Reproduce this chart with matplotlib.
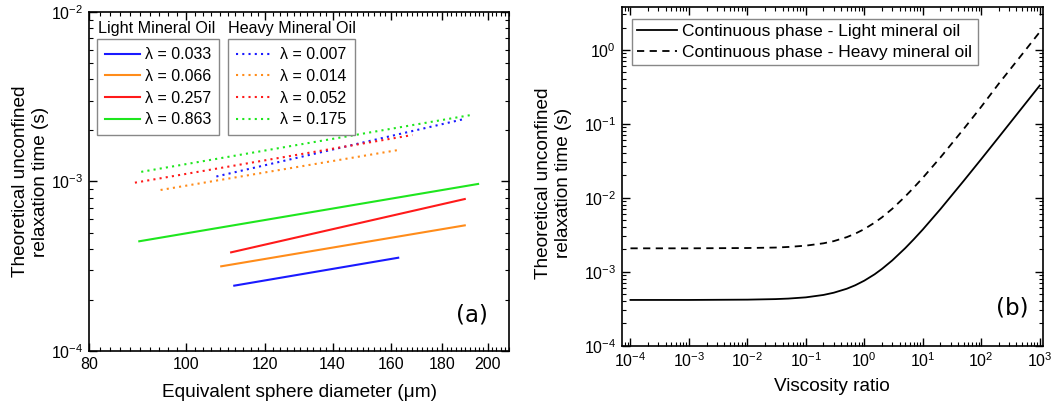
"""Relaxation time of droplets: (a) vs. diameter, (b) vs. viscosity ratio."""

import matplotlib

matplotlib.use("Agg")

import matplotlib.pyplot as plt
from matplotlib.lines import Line2D
from matplotlib.ticker import FixedLocator, FuncFormatter, LogLocator, MultipleLocator, NullFormatter

plt.rcParams["font.family"] = ["Liberation Sans", "DejaVu Sans"]
plt.rcParams["mathtext.fontset"] = "custom"
plt.rcParams["mathtext.rm"] = "Liberation Sans"

# panel (a): light mineral oil (solid) and heavy mineral oil (dotted)
light_labels = ["λ = 0.033", "λ = 0.066", "λ = 0.257", "λ = 0.863"]
light_d = [[111.7, 162.8], [108.4, 189.7], [110.9, 189.7], [89.8, 195.6]]
light_tau = [[2.43e-4, 3.55e-4], [3.16e-4, 5.51e-4], [3.82e-4, 7.88e-4], [4.44e-4, 9.67e-4]]

heavy_labels = ["λ = 0.007", "λ = 0.014", "λ = 0.052", "λ = 0.175"]
heavy_d = [[107.2, 189.7], [94.3, 163.5], [88.9, 168.2], [90.2, 192.7]]
heavy_tau = [[1.07e-3, 2.34e-3], [8.91e-4, 1.54e-3], [9.84e-4, 1.88e-3], [1.14e-3, 2.47e-3]]

series_colors = ["#1a1aff", "#ff8c1a", "#ff1a1a", "#1ee61e"]
diameter_ticks = [80, 100, 120, 140, 160, 180, 200]

# panel (b): relaxation time vs viscosity ratio
visc_ratio = [1e-4, 1e-3, 1e-2, 3e-2, 5e-2, 0.1, 0.2, 0.3, 0.5, 0.7, 1, 1.5, 2, 3, 5, 7, 10, 20, 50,
              100, 200, 500, 1000]
tau_light = [4.15e-4, 4.15e-4, 4.19e-4, 4.26e-4, 4.33e-4, 4.50e-4, 4.85e-4, 5.20e-4, 5.88e-4, 6.56e-4,
             7.57e-4, 9.23e-4, 1.09e-3, 1.42e-3, 2.08e-3, 2.74e-3, 3.72e-3, 7.01e-3, 1.69e-2,
             3.33e-2, 6.62e-2, 0.165, 0.329]
tau_heavy = [2.07e-3, 2.07e-3, 2.09e-3, 2.12e-3, 2.16e-3, 2.25e-3, 2.42e-3, 2.59e-3, 2.93e-3, 3.27e-3,
             3.77e-3, 4.61e-3, 5.43e-3, 7.08e-3, 1.04e-2, 1.37e-2, 1.86e-2, 3.50e-2, 8.5e-2,
             0.170, 0.350, 0.87, 1.74]

LABEL_SIZE = 13.7
TICK_SIZE = 11.5

fig = plt.figure(figsize=(10.62, 4.12), dpi=100)
ax_a = fig.add_axes([0.0838, 0.148, 0.3955, 0.823])
ax_b = fig.add_axes([0.5854, 0.161, 0.3964, 0.821])


def style_axis(ax):
    ax.tick_params(which="both", direction="in", top=True, right=True, labelsize=TICK_SIZE, pad=4)
    ax.tick_params(which="major", length=6, width=1)
    ax.tick_params(which="minor", length=3, width=0.8)
    for spine in ax.spines.values():
        spine.set_linewidth(1.2)


# ---- panel (a)
for xs, ys, c in zip(light_d, light_tau, series_colors):
    ax_a.plot(xs, ys, color=c, linewidth=1.5)
for xs, ys, c in zip(heavy_d, heavy_tau, series_colors):
    ax_a.plot(xs, ys, color=c, linewidth=1.5, linestyle=(0, (1, 2)))

ax_a.set_xscale("log")
ax_a.set_yscale("log")
ax_a.set_xlim(80, 210)
ax_a.set_ylim(1e-4, 1e-2)
ax_a.xaxis.set_major_locator(FixedLocator(diameter_ticks))
ax_a.xaxis.set_major_formatter(FuncFormatter(lambda v, _: f"{v:.0f}"))
ax_a.xaxis.set_minor_locator(MultipleLocator(2))
ax_a.xaxis.set_minor_formatter(NullFormatter())
ax_a.yaxis.set_minor_locator(LogLocator(base=10, subs=range(2, 10)))
ax_a.yaxis.set_minor_formatter(NullFormatter())
style_axis(ax_a)

ax_a.set_xlabel("Equivalent sphere diameter (μm)", fontsize=LABEL_SIZE, labelpad=9)
ax_a.set_ylabel("Theoretical unconfined\nrelaxation time (s)", fontsize=LABEL_SIZE)
ax_a.yaxis.set_label_coords(-0.095, 0.5)

legend_kw = dict(loc="upper left", fontsize=TICK_SIZE, fancybox=False, edgecolor="#888888",
                 framealpha=1, borderaxespad=0, labelspacing=0.42, borderpad=0.5, handlelength=2.2)
light_handles = [Line2D([], [], color=c, linewidth=1.5) for c in series_colors]
leg1 = ax_a.legend(light_handles, light_labels, bbox_to_anchor=(0.0183, 0.9195),
                   handletextpad=0.3, **legend_kw)
leg1.get_frame().set_linewidth(1.0)
ax_a.add_artist(leg1)
heavy_handles = [Line2D([], [], color=c, linewidth=1.5, linestyle=(0, (1, 2))) for c in series_colors]
leg2 = ax_a.legend(heavy_handles, heavy_labels, bbox_to_anchor=(0.3317, 0.9195),
                   handletextpad=0.55, **legend_kw)
leg2.get_frame().set_linewidth(1.0)

ax_a.text(0.0207, 0.95, "Light Mineral Oil", transform=ax_a.transAxes, fontsize=11.6, va="center")
ax_a.text(0.3317, 0.95, "Heavy Mineral Oil", transform=ax_a.transAxes, fontsize=11.6, va="center")
ax_a.text(0.912, 0.106, "(a)", transform=ax_a.transAxes, fontsize=16.5, family="DejaVu Sans",
          ha="center", va="center")

# ---- panel (b)
ax_b.plot(visc_ratio, tau_light, color="black", linewidth=1.3,
          label="Continuous phase - Light mineral oil")
ax_b.plot(visc_ratio, tau_heavy, color="black", linewidth=1.3, linestyle=(0, (4, 3)),
          label="Continuous phase - Heavy mineral oil")
ax_b.set_xscale("log")
ax_b.set_yscale("log")
ax_b.set_xlim(10 ** -4.15, 10 ** 3.05)
ax_b.set_ylim(1e-4, 3.74)
ax_b.xaxis.set_major_locator(LogLocator(base=10, numticks=12))
ax_b.xaxis.set_minor_locator(LogLocator(base=10, subs=range(2, 10), numticks=12))
ax_b.xaxis.set_minor_formatter(NullFormatter())
ax_b.yaxis.set_minor_locator(LogLocator(base=10, subs=range(2, 10), numticks=12))
ax_b.yaxis.set_minor_formatter(NullFormatter())
style_axis(ax_b)

ax_b.set_xlabel("Viscosity ratio", fontsize=LABEL_SIZE, labelpad=6)
ax_b.set_ylabel("Theoretical unconfined\nrelaxation time (s)", fontsize=LABEL_SIZE)
ax_b.yaxis.set_label_coords(-0.118, 0.48)

leg3 = ax_b.legend(loc="upper left", bbox_to_anchor=(0.0245, 0.9654), fontsize=12.5, fancybox=False,
                   edgecolor="#888888", framealpha=1, borderaxespad=0, labelspacing=0.3,
                   borderpad=0.3, handlelength=2.3, handletextpad=0.3)
leg3.get_frame().set_linewidth(1.0)
ax_b.text(0.928, 0.111, "(b)", transform=ax_b.transAxes, fontsize=16.5, family="DejaVu Sans",
          ha="center", va="center")

fig.savefig("out.png", dpi=100)
plt.close(fig)
